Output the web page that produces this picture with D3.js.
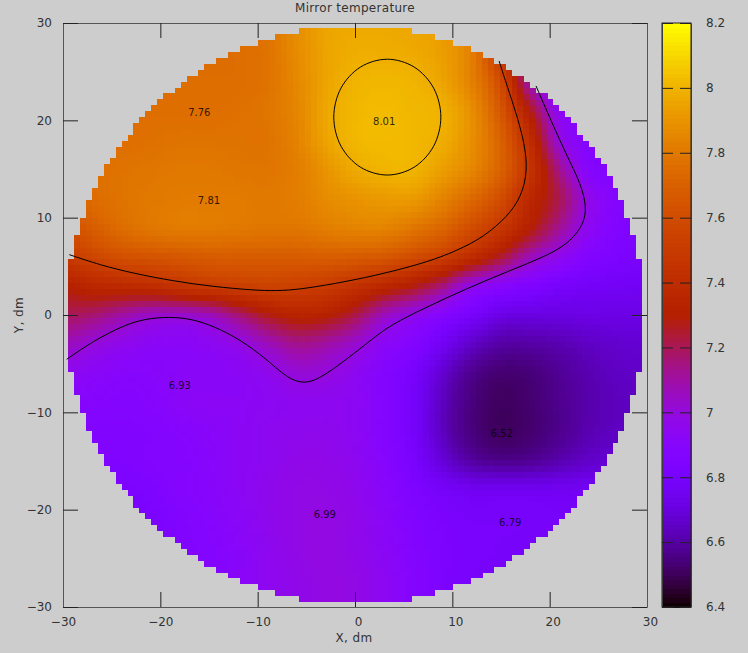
<!DOCTYPE html>
<html><head><meta charset="utf-8">
<script src="https://d3js.org/d3.v7.min.js"></script>
<style>
html,body{margin:0;padding:0;background:#cdcdcd;}
svg{display:block;}
text{font-family:"DejaVu Sans",sans-serif;fill:#333;}
</style></head><body>
<svg id="c" width="748" height="653"></svg>
<script>
// Temperatures estimated by eye from the reference at 3 dm knots.
// The fine cells are resampled from these knots with a smooth (Catmull-Rom) kernel at draw time.
const gridX=[-30,-27,-24,-21,-18,-15,-12,-9,-6,-3,0,3,6,9,12,15,18,21,24,27,30];
const gridY=[30,27,24,21,18,15,12,9,6,3,0,-3,-6,-9,-12,-15,-18,-21,-24,-27,-30];
const temps=[
[7.72,7.72,7.73,7.74,7.75,7.75,7.75,7.79,7.88,7.95,7.97,7.97,7.96,7.93,7.80,7.45,7.00,6.90,6.88,6.85,6.85],
[7.72,7.72,7.73,7.74,7.75,7.75,7.76,7.78,7.87,7.95,7.98,7.98,7.97,7.93,7.82,7.47,7.05,6.90,6.88,6.85,6.85],
[7.72,7.73,7.74,7.75,7.76,7.76,7.76,7.78,7.86,7.95,8.00,8.01,8.00,7.95,7.83,7.58,7.07,6.88,6.86,6.85,6.85],
[7.72,7.73,7.75,7.76,7.76,7.76,7.77,7.79,7.85,7.96,8.01,8.02,8.01,7.99,7.88,7.65,7.28,6.94,6.87,6.85,6.85],
[7.73,7.75,7.76,7.77,7.78,7.78,7.78,7.78,7.84,7.95,8.01,8.02,8.01,7.98,7.88,7.70,7.40,7.00,6.88,6.85,6.85],
[7.74,7.76,7.78,7.79,7.80,7.80,7.79,7.79,7.82,7.90,7.97,8.00,8.00,7.93,7.85,7.70,7.45,7.13,6.90,6.86,6.85],
[7.72,7.75,7.78,7.80,7.81,7.81,7.81,7.80,7.82,7.87,7.90,7.92,7.92,7.84,7.74,7.60,7.37,7.20,6.98,6.88,6.86],
[7.60,7.68,7.75,7.79,7.81,7.81,7.80,7.79,7.79,7.82,7.84,7.84,7.79,7.72,7.60,7.47,7.30,7.12,6.95,6.86,6.84],
[7.49,7.56,7.62,7.64,7.66,7.68,7.68,7.68,7.68,7.69,7.68,7.66,7.60,7.52,7.40,7.25,7.07,6.96,6.87,6.83,6.81],
[7.30,7.36,7.38,7.40,7.45,7.49,7.52,7.54,7.53,7.50,7.44,7.36,7.28,7.15,6.98,6.90,6.85,6.80,6.78,6.77,6.76],
[7.20,7.17,7.10,7.04,7.03,7.06,7.16,7.27,7.33,7.31,7.22,7.06,6.97,6.88,6.80,6.72,6.71,6.71,6.72,6.72,6.72],
[7.07,7.01,6.96,6.93,6.92,6.94,6.98,7.06,7.13,7.10,7.03,6.93,6.87,6.76,6.66,6.60,6.60,6.62,6.65,6.67,6.68],
[6.95,6.92,6.90,6.90,6.92,6.92,6.93,6.96,7.01,7.00,6.95,6.88,6.80,6.67,6.57,6.53,6.54,6.58,6.62,6.65,6.66],
[6.90,6.89,6.88,6.89,6.92,6.93,6.93,6.94,6.95,6.95,6.94,6.88,6.79,6.64,6.55,6.51,6.53,6.57,6.61,6.64,6.65],
[6.87,6.86,6.86,6.87,6.89,6.91,6.93,6.95,6.96,6.96,6.94,6.88,6.79,6.64,6.55,6.51,6.53,6.57,6.62,6.65,6.66],
[6.85,6.85,6.85,6.87,6.88,6.90,6.93,6.95,6.97,6.97,6.95,6.89,6.81,6.69,6.60,6.57,6.58,6.62,6.66,6.69,6.70],
[6.82,6.82,6.82,6.84,6.88,6.90,6.93,6.96,6.98,6.98,6.96,6.91,6.84,6.79,6.76,6.76,6.76,6.76,6.77,6.77,6.77],
[6.80,6.80,6.80,6.82,6.86,6.89,6.92,6.96,6.98,6.99,6.97,6.92,6.86,6.82,6.80,6.80,6.80,6.79,6.78,6.78,6.78],
[6.78,6.78,6.79,6.81,6.85,6.88,6.91,6.95,6.98,6.99,6.97,6.93,6.87,6.83,6.81,6.80,6.79,6.78,6.78,6.78,6.78],
[6.76,6.77,6.78,6.80,6.84,6.87,6.91,6.95,6.97,6.99,6.98,6.94,6.88,6.83,6.80,6.79,6.78,6.78,6.78,6.78,6.78],
[6.76,6.77,6.78,6.80,6.84,6.87,6.91,6.95,6.97,6.99,6.98,6.94,6.88,6.83,6.80,6.79,6.78,6.78,6.78,6.78,6.78]
];
const contour75=[[-29.35,6.20],[-26.2,5.14],[-22.78,4.28],[-18.67,3.49],[-14.56,2.91],[-10.45,2.55],[-8.04,2.47],[-5.65,2.64],[-2.23,3.19],[1.95,4.01],[7.09,5.31],[10.51,6.61],[13.25,8.04],[15.65,10.10],[17.10,12.15],[17.75,14.90],[17.40,17.64],[16.68,20.37],[15.65,23.46],[14.80,26.10]];
const contour70=[[-29.62,-4.55],[-26.89,-2.67],[-23.80,-1.08],[-21.57,-0.38],[-19.01,-0.18],[-16.75,-0.41],[-14.56,-1.13],[-11.81,-2.50],[-9.07,-4.55],[-7.02,-6.44],[-5.31,-7.10],[-3.60,-6.54],[-0.85,-4.55],[1.95,-2.33],[3.67,-1.03],[7.09,0.69],[11.54,2.74],[15.65,4.45],[19.08,5.83],[21.47,7.02],[23.19,8.73],[23.90,10.79],[23.19,13.53],[21.81,16.26],[20.11,20.04],[18.60,23.53]];
const contour80=[[8.82,20.33],[8.08,23.31],[6.07,25.48],[3.32,26.28],[0.57,25.48],[-1.44,23.31],[-2.18,20.33],[-1.44,17.35],[0.57,15.18],[3.32,14.38],[6.07,15.18],[8.08,17.35]];
const peakLabels=["7.76","7.81","8.01","6.93","6.99","6.52","6.79"];
const peakX=[-16,-15,3.0,-18.0,-3.1,15.1,15.95];
const peakY=[20.8,11.8,19.9,-7.2,-20.5,-12.2,-21.3];
const axisTicks=[-30,-20,-10,0,10,20,30];
const barTicks=[6.4,6.6,6.8,7,7.2,7.4,7.6,7.8,8,8.2];

const svg=d3.select("#c");
const x=d3.scaleLinear().domain([-30,30]).range([63,647]);
const y=d3.scaleLinear().domain([-30,30]).range([607,23]);
const cb=d3.scaleLinear().domain([6.4,8.2]).range([607,23]);

function palette(t){
  const f=Math.max(0,Math.min(1,(t-6.4)/1.8));
  const r=Math.sqrt(f),g=f*f*f,b=Math.max(0,Math.sin(2*Math.PI*f));
  return d3.rgb(r*255,g*255,b*255).formatHex();
}
function cr(p0,p1,p2,p3,u){
  return 0.5*((2*p1)+(-p0+p2)*u+(2*p0-5*p1+4*p2-p3)*u*u+(-p0+3*p1-3*p2+p3)*u*u*u);
}
function sample(px,py){
  const fx=(px-gridX[0])/3, fy=(gridY[0]-py)/3;
  const i=Math.min(19,Math.floor(fx)), j=Math.min(19,Math.floor(fy));
  const u=fx-i, v=fy-j, c=(a)=>Math.max(0,Math.min(20,a));
  const col=[-1,0,1,2].map(dj=>{
    const r=temps[c(j+dj)];
    return cr(r[c(i-1)],r[c(i)],r[c(i+1)],r[c(i+2)],u);
  });
  return cr(col[0],col[1],col[2],col[3],v);
}
const step=0.607, radius=29.7;
const cells=[];
d3.range(-48,49).forEach(a=>d3.range(-48,49).forEach(b=>{
  const cx=a*step, cy=b*step;
  if(Math.hypot(cx,cy)<=radius) cells.push({cx,cy,t:sample(cx,cy)});
}));
svg.append("g").attr("shape-rendering","crispEdges").selectAll("rect").data(cells).join("rect")
  .attr("x",d=>x(d.cx-step/2)).attr("y",d=>y(d.cy+step/2))
  .attr("width",x(step)-x(0)+0.5).attr("height",y(0)-y(step)+0.5)
  .attr("fill",d=>palette(d.t));

// contours
const line=d3.line().x(d=>x(d[0])).y(d=>y(d[1])).curve(d3.curveBasis);
const closed=d3.line().x(d=>x(d[0])).y(d=>y(d[1])).curve(d3.curveCatmullRomClosed);
[contour75,contour70].forEach(c=>svg.append("path").attr("d",line(c)).attr("fill","none").attr("stroke","#000").attr("stroke-width",1));
svg.append("path").attr("d",closed(contour80)).attr("fill","none").attr("stroke","#000").attr("stroke-width",1);

svg.append("g").selectAll("text").data(peakLabels).join("text")
  .attr("x",(d,i)=>x(peakX[i])).attr("y",(d,i)=>y(peakY[i])).attr("dy","0.35em")
  .attr("text-anchor","middle").attr("font-size",10).style("fill","#000").style("fill-opacity",0.8).text(d=>d);

// axes
function style(g){
  g.selectAll(".domain").attr("stroke","#555").attr("stroke-width",1);
  g.selectAll(".tick line").attr("stroke","#222").attr("stroke-width",1);
  g.selectAll("text").attr("font-size",12).style("font-family",'"DejaVu Sans",sans-serif').style("fill","#333");
}
const fmt=d3.format("d");
svg.append("g").attr("transform","translate(0,607)").call(d3.axisBottom(x).tickValues(axisTicks).tickSizeInner(-15).tickSizeOuter(0).tickFormat(d=>fmt(d))).call(style)
  .selectAll("text").attr("x",d=>d<0?0:3).attr("y",10).attr("dy","0.71em");
svg.append("g").attr("transform","translate(0,23)").call(d3.axisTop(x).tickValues(axisTicks).tickSizeInner(-15).tickSizeOuter(0).tickFormat("")).call(style);
svg.append("g").attr("transform","translate(63,0)").call(d3.axisLeft(y).tickValues(axisTicks).tickSizeInner(-15).tickSizeOuter(0).tickFormat(d=>fmt(d))).call(style)
  .selectAll("text").attr("x",-11);
svg.append("g").attr("transform","translate(647,0)").call(d3.axisRight(y).tickValues(axisTicks).tickSizeInner(-15).tickSizeOuter(0).tickFormat("")).call(style);

// colour bar
const barSteps=d3.range(0,128);
svg.append("g").attr("shape-rendering","crispEdges").selectAll("rect").data(barSteps).join("rect")
  .attr("x",662).attr("width",29)
  .attr("y",d=>cb(6.4+1.8*(d+1)/128)).attr("height",d=>cb(6.4+1.8*d/128)-cb(6.4+1.8*(d+1)/128)+0.6)
  .attr("fill",d=>palette(6.4+1.8*(d+0.5)/128));
svg.append("g").attr("transform","translate(691,0)").call(d3.axisRight(cb).tickValues(barTicks).tickSizeInner(-11).tickSizeOuter(0).tickFormat(d=>d3.format("~g")(d))).call(style)
  .selectAll("text").attr("x",15);
svg.append("g").attr("transform","translate(662,0)").call(d3.axisLeft(cb).tickValues(barTicks).tickSizeInner(-11).tickSizeOuter(0).tickFormat("")).call(style);
svg.append("rect").attr("x",662).attr("y",23).attr("width",29).attr("height",584).attr("fill","none").attr("stroke","#222");

// titles
svg.append("text").attr("x",355).attr("y",12).attr("text-anchor","middle").attr("font-size",12).attr("letter-spacing",0.3).text("Mirror temperature");
svg.append("text").attr("x",354).attr("y",642).attr("text-anchor","middle").attr("font-size",12).attr("letter-spacing",0.4).text("X, dm");
svg.append("text").attr("transform","translate(23,315) rotate(-90)").attr("text-anchor","middle").attr("font-size",12).attr("letter-spacing",0.4).text("Y, dm");
</script>
</body></html>
